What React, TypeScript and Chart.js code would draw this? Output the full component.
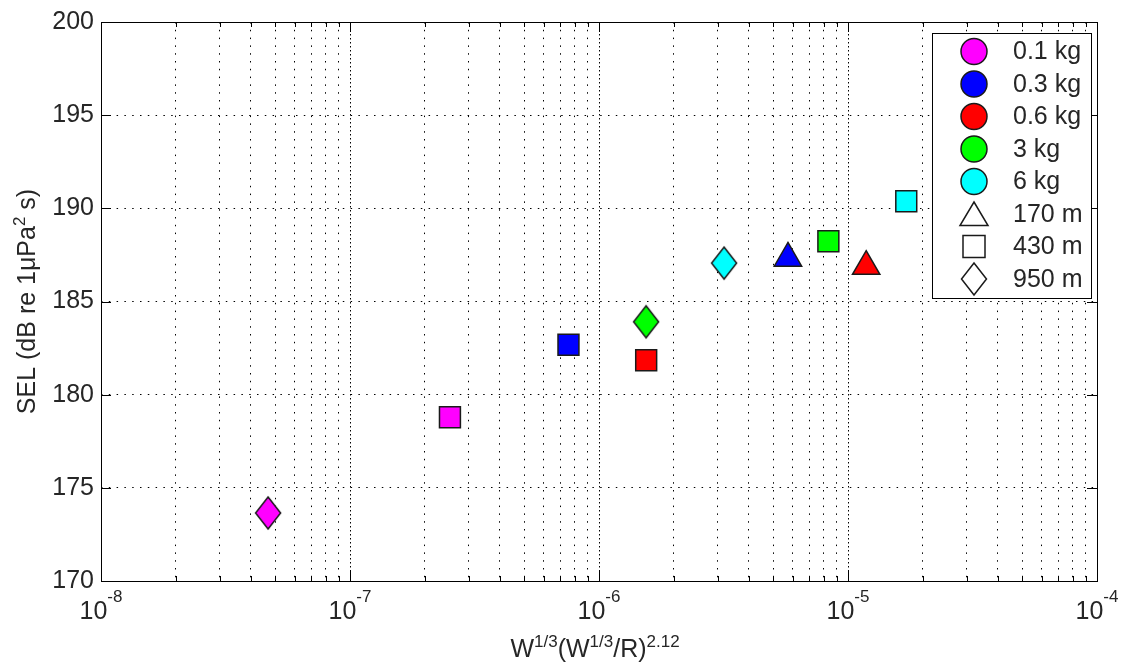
import React, { useEffect, useRef } from 'react';
import { Chart, registerables } from 'chart.js';

Chart.register(...registerables);

// ---------- data ----------
const chargeLabels = ['0.1 kg', '0.3 kg', '0.6 kg', '3 kg', '6 kg'];
const chargeColors = ['#ff00ff', '#0000ff', '#ff0000', '#00ff00', '#00ffff'];
const rangeLabels = ['170 m', '430 m', '950 m'];

// 170 m (triangles)
const triCharge = [1, 2];
const triX = [5.74e-6, 1.183e-5];
const triY = [187.32, 186.88];

// 430 m (squares)
const sqCharge = [0, 1, 2, 3, 4];
const sqX = [2.52e-7, 7.54e-7, 1.547e-6, 8.34e-6, 1.714e-5];
const sqY = [178.79, 182.68, 181.85, 188.23, 190.38];

// 950 m (diamonds)
const diaCharge = [0, 3, 4];
const diaX = [4.69e-8, 1.546e-6, 3.18e-6];
const diaY = [173.65, 183.91, 187.06];

const yTickValues = [170, 175, 180, 185, 190, 195, 200];
const xDecades = [-8, -7, -6, -5, -4];
const xMinorMultipliers = [2, 3, 4, 5, 6, 7, 8, 9];

const xTitleParts: [string, number][] = [
  ['W', 0], ['1/3', 1], ['(W', 0], ['1/3', 1], ['/R)', 0], ['2.12', 1],
];
const yTitleParts: [string, number][] = [
  ['SEL (dB re 1\u03bcPa', 0], ['2', 1], [' s)', 0],
];

// ---------- styling ----------
const FONT = '"Liberation Sans", Arial, Helvetica, sans-serif';
const MAIN_SIZE = 25;
const SUP_SIZE = 17;
const TEXT_COLOR = '#262626';
const EDGE = '#1a1a1a';
const GRID = '#000000';

function makeDiamond(fill: string): HTMLCanvasElement {
  const c = document.createElement('canvas');
  c.width = 28;
  c.height = 36;
  const g = c.getContext('2d')!;
  g.beginPath();
  g.moveTo(14, 2);
  g.lineTo(26.5, 18);
  g.lineTo(14, 34);
  g.lineTo(1.5, 18);
  g.closePath();
  g.fillStyle = fill;
  g.fill();
  g.lineWidth = 1.5;
  g.strokeStyle = EDGE;
  g.stroke();
  return c;
}

function drawParts(ctx: CanvasRenderingContext2D, parts: [string, number][], cx: number, baseline: number, supRaise: number) {
  let total = 0;
  const widths = parts.map(([t, s]) => {
    ctx.font = `${s ? SUP_SIZE : MAIN_SIZE}px ${FONT}`;
    const w = ctx.measureText(t).width;
    total += w;
    return w;
  });
  let x = cx - total / 2;
  parts.forEach(([t, s], i) => {
    ctx.font = `${s ? SUP_SIZE : MAIN_SIZE}px ${FONT}`;
    ctx.fillText(t, x, s ? baseline - supRaise : baseline);
    x += widths[i];
  });
}

const framePlugin = {
  id: 'matlabFrame',
  beforeDatasetsDraw(chart: any) {
    const { ctx, chartArea: a, scales } = chart;
    const xs = scales.x;
    const ys = scales.y;
    ctx.save();
    ctx.strokeStyle = '#000';
    ctx.lineWidth = 1;
    ctx.setLineDash([]);
    ctx.beginPath();
    xs.ticks.forEach((t: any) => {
      const px = Math.round(xs.getPixelForValue(t.value)) + 0.5;
      const len = t.major ? 10 : 5;
      ctx.moveTo(px, a.bottom);
      ctx.lineTo(px, a.bottom - len);
      ctx.moveTo(px, a.top);
      ctx.lineTo(px, a.top + len);
    });
    ys.ticks.forEach((t: any) => {
      const py = Math.round(ys.getPixelForValue(t.value)) + 0.5;
      ctx.moveTo(a.left, py);
      ctx.lineTo(a.left + 10, py);
      ctx.moveTo(a.right, py);
      ctx.lineTo(a.right - 10, py);
    });
    ctx.stroke();
    ctx.strokeRect(a.left + 0.5, a.top + 0.5, a.right - a.left, a.bottom - a.top);
    ctx.restore();
  },
  afterDraw(chart: any) {
    const { ctx, chartArea: a, scales } = chart;
    const xs = scales.x;
    ctx.save();
    ctx.fillStyle = TEXT_COLOR;
    ctx.textBaseline = 'alphabetic';
    ctx.textAlign = 'left';

    // x tick labels 10^n
    xDecades.forEach((e) => {
      const px = xs.getPixelForValue(Math.pow(10, e));
      ctx.font = `${MAIN_SIZE}px ${FONT}`;
      const w1 = ctx.measureText('10').width;
      ctx.font = `${SUP_SIZE}px ${FONT}`;
      const w2 = ctx.measureText(String(e)).width;
      const start = px - (w1 + w2) / 2;
      ctx.font = `${MAIN_SIZE}px ${FONT}`;
      ctx.fillText('10', start, a.bottom + 38);
      ctx.font = `${SUP_SIZE}px ${FONT}`;
      ctx.fillText(String(e), start + w1, a.bottom + 21);
    });

    // x title
    drawParts(ctx, xTitleParts, (a.left + a.right) / 2 - 4, a.bottom + 76, 10);

    // y title (rotated)
    ctx.save();
    ctx.translate(35, (a.top + a.bottom) / 2);
    ctx.rotate(-Math.PI / 2);
    drawParts(ctx, yTitleParts, 0, 0, 10);
    ctx.restore();

    // legend
    const lw = 159;
    const lh = 265;
    const lx = a.right - 6 - lw;
    const ly = a.top + 11;
    ctx.fillStyle = '#ffffff';
    ctx.fillRect(lx, ly, lw, lh);
    ctx.strokeStyle = '#000';
    ctx.lineWidth = 1;
    ctx.strokeRect(lx + 0.5, ly + 0.5, lw, lh);

    const entries: { label: string; kind: string; color: string }[] = [];
    chargeLabels.forEach((l, i) => entries.push({ label: l, kind: 'circle', color: chargeColors[i] }));
    rangeLabels.forEach((l, i) => entries.push({ label: l, kind: ['triangle', 'square', 'diamond'][i], color: '#ffffff' }));

    entries.forEach((en, i) => {
      const cy = ly + 18.5 + i * 32.5;
      const mx = lx + 42;
      ctx.beginPath();
      if (en.kind === 'circle') {
        ctx.arc(mx, cy, 13, 0, Math.PI * 2);
      } else if (en.kind === 'triangle') {
        ctx.moveTo(mx, cy - 12);
        ctx.lineTo(mx + 14, cy + 11.5);
        ctx.lineTo(mx - 14, cy + 11.5);
        ctx.closePath();
      } else if (en.kind === 'square') {
        ctx.rect(mx - 11, cy - 11, 22, 22);
      } else {
        ctx.moveTo(mx, cy - 16);
        ctx.lineTo(mx + 12.5, cy);
        ctx.lineTo(mx, cy + 16);
        ctx.lineTo(mx - 12.5, cy);
        ctx.closePath();
      }
      ctx.fillStyle = en.color;
      ctx.fill();
      ctx.lineWidth = 1.5;
      ctx.strokeStyle = EDGE;
      ctx.stroke();
      ctx.fillStyle = TEXT_COLOR;
      ctx.font = `${MAIN_SIZE}px ${FONT}`;
      ctx.textBaseline = 'middle';
      ctx.fillText(en.label, lx + 81, cy + 1);
    });
    ctx.restore();
  },
};

export default function App() {
  const ref = useRef<HTMLCanvasElement | null>(null);

  useEffect(() => {
    if (!ref.current) return;
    const diamonds = chargeColors.map((c) => makeDiamond(c));

    const chart = new Chart(ref.current, {
      type: 'scatter',
      data: {
        datasets: [
          {
            label: rangeLabels[0],
            data: triX.map((x, i) => ({ x, y: triY[i] })),
            pointStyle: 'triangle',
            pointRadius: 15.8,
            pointBackgroundColor: triCharge.map((c) => chargeColors[c]),
            pointBorderColor: EDGE,
            pointBorderWidth: 1.5,
          },
          {
            label: rangeLabels[1],
            data: sqX.map((x, i) => ({ x, y: sqY[i] })),
            pointStyle: 'rect',
            pointRadius: 14.8,
            pointBackgroundColor: sqCharge.map((c) => chargeColors[c]),
            pointBorderColor: EDGE,
            pointBorderWidth: 1.5,
          },
          {
            label: rangeLabels[2],
            data: diaX.map((x, i) => ({ x, y: diaY[i] })),
            pointStyle: diaCharge.map((c) => diamonds[c]) as any,
            pointRadius: 16,
            pointBackgroundColor: diaCharge.map((c) => chargeColors[c]),
          },
        ],
      },
      options: {
        responsive: false,
        animation: false,
        events: [],
        layout: { padding: { left: 0, right: 27, top: 16, bottom: 0 } },
        plugins: {
          legend: { display: false },
          tooltip: { enabled: false },
          title: { display: false },
        },
        scales: {
          x: {
            type: 'logarithmic',
            min: 1e-8,
            max: 1e-4,
            afterBuildTicks: (s: any) => {
              const t: any[] = [];
              xDecades.forEach((e, i) => {
                t.push({ value: Math.pow(10, e), major: true });
                if (i < xDecades.length - 1) {
                  xMinorMultipliers.forEach((m) => t.push({ value: m * Math.pow(10, e), major: false }));
                }
              });
              s.ticks = t;
            },
            afterFit: (s: any) => {
              s.height = 84;
            },
            ticks: { display: false, autoSkip: false },
            grid: {
              color: GRID,
              lineWidth: 1,
              drawTicks: false,
            },
            border: {
              display: false,
              dash: (c: any) => (c.tick && c.tick.major ? [1.5, 2.5] : [1.5, 6.3]),
            } as any,
          },
          y: {
            min: 170,
            max: 200,
            afterBuildTicks: (s: any) => {
              s.ticks = yTickValues.map((v) => ({ value: v }));
            },
            afterFit: (s: any) => {
              s.width = 101;
            },
            ticks: {
              color: TEXT_COLOR,
              font: { family: FONT, size: MAIN_SIZE },
              padding: 7,
              autoSkip: false,
            },
            grid: {
              color: GRID,
              lineWidth: 1,
              drawTicks: false,
            },
            border: { display: false, dash: [1.5, 6.3] },
          },
        },
      },
      plugins: [framePlugin],
    });
    return () => chart.destroy();
  }, []);

  return (
    <canvas
      ref={ref}
      width={1124}
      height={665}
      style={{ position: 'fixed', left: 0, top: 0, width: 1124, height: 665, background: '#fff' }}
    />
  );
}
